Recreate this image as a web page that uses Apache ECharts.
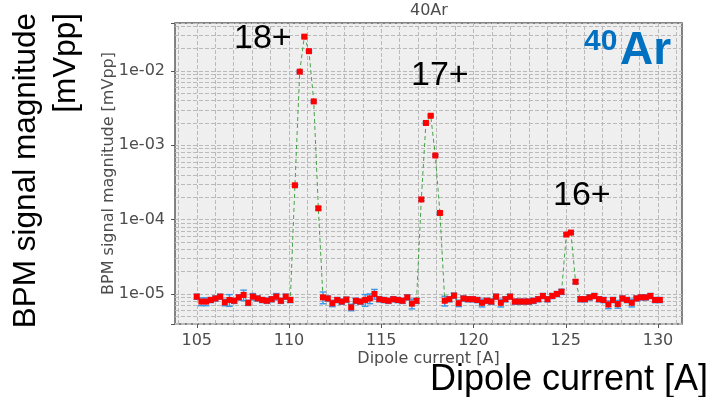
<!DOCTYPE html>
<html>
<head>
<meta charset="utf-8">
<script src="https://cdn.jsdelivr.net/npm/echarts@6/dist/echarts.min.js"></script>
<style>
  html, body { margin: 0; padding: 0; background: #fff; }
  #main { width: 712px; height: 397px; }
</style>
</head>
<body>
<div id="main"></div>
<script>
// dipole current [A]
var current = [
  105.00, 105.25, 105.51, 105.76, 106.01, 106.27, 106.52, 106.77, 107.03, 107.28,
  107.54, 107.79, 108.04, 108.30, 108.55, 108.80, 109.06, 109.31, 109.56, 109.82,
  110.07, 110.32, 110.58, 110.83, 111.08, 111.34, 111.59, 111.84, 112.10, 112.35,
  112.61, 112.86, 113.11, 113.37, 113.62, 113.87, 114.13, 114.38, 114.63, 114.89,
  115.14, 115.39, 115.65, 115.90, 116.15, 116.41, 116.66, 116.91, 117.17, 117.42,
  117.68, 117.93, 118.18, 118.44, 118.69, 118.94, 119.20, 119.45, 119.70, 119.96,
  120.21, 120.46, 120.72, 120.97, 121.22, 121.48, 121.73, 121.98, 122.24, 122.49,
  122.75, 123.00, 123.25, 123.51, 123.76, 124.01, 124.27, 124.52, 124.77, 125.03,
  125.28, 125.53, 125.79, 126.04, 126.29, 126.55, 126.80, 127.05, 127.31, 127.56,
  127.82, 128.07, 128.32, 128.58, 128.83, 129.08, 129.34, 129.59, 129.84, 130.10
];
// BPM signal magnitude [mVpp]
var signal = [
  9.2e-6, 7.9e-6, 7.9e-6, 8.3e-6, 8.7e-6, 9.2e-6, 7.7e-6, 8.3e-6, 8.1e-6, 9.0e-6,
  9.7e-6, 7.6e-6, 9.2e-6, 8.7e-6, 8.3e-6, 8.1e-6, 8.5e-6, 9.2e-6, 8.1e-6, 9.2e-6,
  8.3e-6, 2.9e-4, 9.8e-3, 2.9e-2, 1.85e-2, 3.9e-3, 1.42e-4, 9.0e-6, 8.7e-6, 7.5e-6,
  8.3e-6, 7.9e-6, 8.4e-6, 6.6e-6, 8.1e-6, 7.9e-6, 8.3e-6, 8.7e-6, 1.0e-5, 8.5e-6,
  8.3e-6, 8.1e-6, 8.5e-6, 8.3e-6, 8.1e-6, 9.0e-6, 7.4e-6, 8.1e-6, 1.87e-4, 2.0e-3,
  2.5e-3, 7.3e-4, 1.23e-4, 8.1e-6, 8.5e-6, 9.5e-6, 7.5e-6, 8.7e-6, 8.5e-6, 8.5e-6,
  8.3e-6, 7.6e-6, 8.1e-6, 7.9e-6, 9.2e-6, 7.6e-6, 8.5e-6, 9.2e-6, 7.9e-6, 7.9e-6,
  7.9e-6, 7.9e-6, 8.1e-6, 8.5e-6, 9.4e-6, 8.5e-6, 9.4e-6, 1.0e-5, 1.07e-5, 6.3e-5,
  6.7e-5, 1.46e-5, 8.5e-6, 8.5e-6, 9.0e-6, 9.4e-6, 8.5e-6, 8.3e-6, 7.2e-6, 8.3e-6,
  7.3e-6, 8.7e-6, 8.3e-6, 7.6e-6, 8.7e-6, 9.0e-6, 9.0e-6, 9.4e-6, 8.3e-6, 8.3e-6
];
// relative error of each point
var errRel = [
  0.08, 0.12, 0.12, 0.08, 0.08, 0.08, 0.10, 0.18, 0.08, 0.08,
  0.16, 0.08, 0.10, 0.08, 0.08, 0.08, 0.08, 0.10, 0.08, 0.08,
  0.08, 0.03, 0.03, 0.03, 0.03, 0.03, 0.05, 0.18, 0.08, 0.10,
  0.08, 0.08, 0.08, 0.10, 0.08, 0.08, 0.18, 0.15, 0.15, 0.08,
  0.08, 0.08, 0.08, 0.08, 0.08, 0.08, 0.15, 0.08, 0.04, 0.03,
  0.03, 0.03, 0.04, 0.15, 0.08, 0.08, 0.10, 0.08, 0.08, 0.08,
  0.08, 0.12, 0.08, 0.08, 0.08, 0.12, 0.08, 0.08, 0.08, 0.08,
  0.08, 0.08, 0.08, 0.08, 0.08, 0.08, 0.08, 0.08, 0.08, 0.04,
  0.04, 0.06, 0.08, 0.08, 0.08, 0.08, 0.08, 0.08, 0.12, 0.08,
  0.12, 0.08, 0.08, 0.12, 0.08, 0.08, 0.08, 0.08, 0.08, 0.08
];
var xTicks = [105, 110, 115, 120, 125, 130];
var peakLabels = ['18+', '17+', '16+'];

var gridDash = { color: '#bababa', type: [4, 2], width: 1 };

// minor grid: every 1 A, and 2..9 in each decade
var minorLines = [];
for (var a = 104; a <= 131; a++) {
  if (a % 5 !== 0) minorLines.push({ xAxis: a });
}
for (var d = -6; d <= -2; d++) {
  for (var k = 2; k <= 9; k++) {
    var v = k * Math.pow(10, d);
    if (v > 3.94e-6 && v < 0.0443) minorLines.push({ yAxis: v });
  }
}

function renderErr(params, api) {
  var x = api.value(0);
  var top = api.coord([x, api.value(3)]);
  var bot = api.coord([x, api.value(2)]);
  var c = 3.3;
  var st = { stroke: '#3b97e8', lineWidth: 1.4 };
  return {
    type: 'group',
    children: [
      { type: 'line', shape: { x1: top[0], y1: top[1], x2: bot[0], y2: bot[1] }, style: st },
      { type: 'line', shape: { x1: top[0] - c, y1: top[1], x2: top[0] + c, y2: top[1] }, style: st },
      { type: 'line', shape: { x1: bot[0] - c, y1: bot[1], x2: bot[0] + c, y2: bot[1] }, style: st }
    ]
  };
}

var pts = current.map(function (c, i) { return [c, signal[i]]; });
var errData = current.map(function (c, i) {
  return [c, signal[i], signal[i] * (1 - errRel[i]), signal[i] * (1 + errRel[i])];
});

var chart = echarts.init(document.getElementById('main'), null, { renderer: 'canvas' });

var option = {
  animation: false,
  backgroundColor: '#fff',
  grid: {
    left: 175, top: 23, right: 30, bottom: 73,
    show: true, backgroundColor: '#efefef',
    borderColor: '#5c5c5c', borderWidth: 1.5
  },
  xAxis: {
    type: 'value',
    min: 103.82, max: 131.3,
    axisLine: { show: false },
    axisTick: { show: true, customValues: xTicks, length: 4, lineStyle: { color: '#555' } },
    axisLabel: {
      customValues: xTicks,
      fontFamily: 'DejaVu Sans', fontSize: 16, color: '#4d4d4d', margin: 9
    },
    splitLine: { show: true, lineStyle: gridDash },
    name: 'Dipole current [A]',
    nameLocation: 'middle', nameGap: 27, nameMoveOverlap: false,
    nameTextStyle: { fontFamily: 'DejaVu Sans', fontSize: 16, color: '#4d4d4d' }
  },
  yAxis: {
    type: 'log', logBase: 10,
    min: 3.94e-6, max: 0.0443,
    axisLine: { show: false },
    axisTick: { show: true, length: 4, lineStyle: { color: '#555' } },
    axisLabel: {
      fontFamily: 'DejaVu Sans', fontSize: 16, color: '#4d4d4d', margin: 10,
      formatter: function (v) {
        var e = Math.log10(v);
        var r = Math.round(e);
        if (Math.abs(e - r) > 1e-6) return '';
        return '1e' + (r < 0 ? '-' : '+') + String(Math.abs(r)).padStart(2, '0');
      }
    },
    splitLine: { show: true, lineStyle: gridDash },
    name: 'BPM signal magnitude [mVpp]',
    nameLocation: 'middle', nameGap: 58, nameMoveOverlap: false,
    nameTextStyle: { fontFamily: 'DejaVu Sans', fontSize: 16, color: '#4d4d4d' }
  },
  series: [
    {
      type: 'custom',
      renderItem: renderErr,
      data: errData,
      encode: { x: 0, y: [1, 2, 3] },
      silent: true,
      z: 2
    },
    {
      type: 'line',
      data: pts,
      symbol: 'rect',
      symbolSize: 6,
      showSymbol: true,
      itemStyle: { color: '#ff0000' },
      lineStyle: { color: 'rgba(40,150,40,0.85)', width: 1, type: [4, 3] },
      silent: true,
      z: 3,
      markLine: {
        silent: true, symbol: 'none', animation: false, z: 1,
        precision: 12,
        label: { show: false },
        lineStyle: gridDash,
        emphasis: { disabled: true },
        data: minorLines
      }
    }
  ],
  graphic: [
    { type: 'text', z: 100, left: 410, top: 3, style: { text: '40Ar', font: '16px "DejaVu Sans"', fill: '#4d4d4d' } },
    { type: 'text', z: 100, x: 234, y: 39, style: { text: peakLabels[0], font: '34px "Liberation Sans"', fill: '#000', verticalAlign: 'middle' } },
    { type: 'text', z: 100, x: 411, y: 76, style: { text: peakLabels[1], font: '34px "Liberation Sans"', fill: '#000', verticalAlign: 'middle' } },
    { type: 'text', z: 100, x: 553, y: 196, style: { text: peakLabels[2], font: '34px "Liberation Sans"', fill: '#000', verticalAlign: 'middle' } },
    { type: 'text', z: 100, x: 584, y: 27, style: { text: '40', font: 'bold 30px "Liberation Sans"', fill: '#0070c0', verticalAlign: 'top' } },
    { type: 'text', z: 100, x: 620, y: 28, style: { text: 'Ar', font: 'bold 46px "Liberation Sans"', fill: '#0070c0', verticalAlign: 'top' } },
    {
      type: 'text', z: 100, x: 6, y: 13, rotation: Math.PI / 2,
      style: {
        text: 'BPM signal magnitude\n[mVpp]', font: '31.5px "Liberation Sans"', fill: '#000',
        align: 'right', verticalAlign: 'top', lineHeight: 40
      }
    },
    { type: 'text', z: 100, x: 430, y: 380, style: { text: 'Dipole current [A]', font: '36px "Liberation Sans"', fill: '#000', verticalAlign: 'middle' } }
  ]
};

chart.setOption(option);
</script>
</body>
</html>
